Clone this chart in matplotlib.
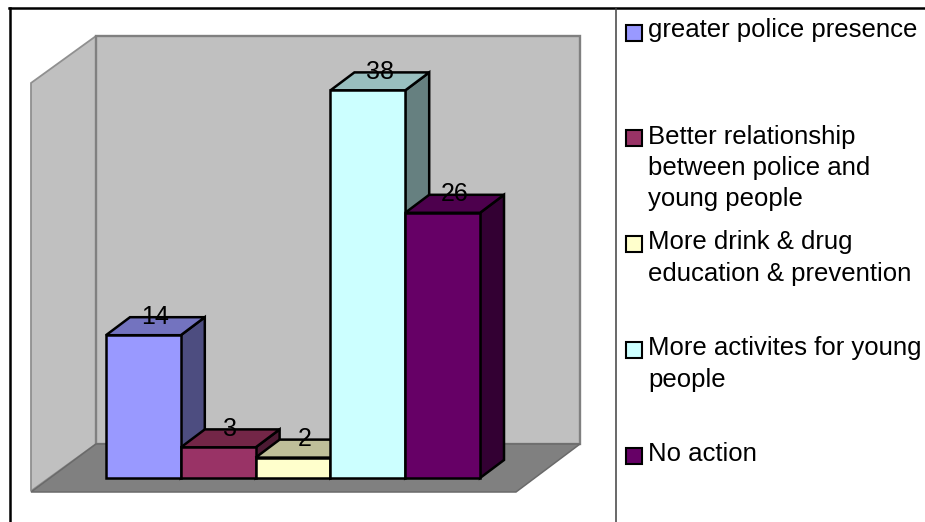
import matplotlib
matplotlib.use("Agg")
import matplotlib.pyplot as plt
from matplotlib.patches import Polygon, Rectangle

plt.rcParams['font.family'] = ['Liberation Sans', 'DejaVu Sans']

labels = ["greater police presence",
          "Better relationship\nbetween police and\nyoung people",
          "More drink & drug\neducation & prevention",
          "More activites for young\npeople",
          "No action"]
values = [14, 3, 2, 38, 26]
front_colors = ['#9999FF', '#993366', '#FFFFCC', '#CCFFFF', '#660066']
top_colors = ['#7373BF', '#732647', '#BFBF99', '#99BFBF', '#4D004D']
side_colors = ['#4D4D80', '#4D1A33', '#808066', '#668080', '#330033']

W, H = 925, 522
BASE = 478          # pixel row of value 0
PX_PER_UNIT = 10.2  # pixel rows per unit of value
DX, DY = 24, 18     # depth of the bars in pixels
BAR_LEFT = 106
BAR_W = 74.8
EDGE = 1.8


def py(row):
    # pixel row -> y data value
    return (BASE - row) / PX_PER_UNIT


fig = plt.figure(figsize=(W / 100, H / 100), dpi=100)
ax = fig.add_axes([0, 0, 1, 1])
ax.set_xlim(0, W)
ax.set_ylim(py(H), py(0))
ax.axis('off')


def poly(pts, fc, ec, lw, z=1):
    ax.add_patch(Polygon([(x, py(r)) for x, r in pts], closed=True, fc=fc, ec=ec,
                         lw=lw, zorder=z, joinstyle='miter'))


# walls and floor
poly([(31, 83), (96, 36), (96, 444), (31, 491)], '#C0C0C0', '#909090', 1.3)
poly([(96, 36), (580, 36), (580, 444), (96, 444)], '#C0C0C0', '#808080', 1.7)
poly([(31, 492), (96, 444), (580, 444), (516, 492)], '#808080', '#6A6A6A', 1.1)

# bars, left to right so each one covers the side of the one before
dy_val = DY / PX_PER_UNIT
for i, v in enumerate(values):
    x0 = BAR_LEFT + i * BAR_W
    x1 = x0 + BAR_W
    z = 2 + i
    ax.add_patch(Polygon([(x1, 0), (x1 + DX, dy_val), (x1 + DX, v + dy_val), (x1, v)],
                         fc=side_colors[i], ec='black', lw=EDGE, zorder=z))
    ax.add_patch(Polygon([(x0, v), (x0 + DX, v + dy_val), (x1 + DX, v + dy_val), (x1, v)],
                         fc=top_colors[i], ec='black', lw=EDGE, zorder=z))
    ax.bar(x0, v, width=BAR_W, align='edge', color=front_colors[i], edgecolor='black',
           linewidth=EDGE, zorder=z)

for i, v in enumerate(values):
    x0 = BAR_LEFT + i * BAR_W
    ax.text(x0 + BAR_W / 2 + 12, v + dy_val + 0.05, str(v), ha='center', va='center',
            fontsize=18, color='black', zorder=20)

# chart frame
ax.plot([9.5, 9.5], [py(8), py(522)], color='black', lw=1.8, zorder=30)
ax.plot([9, 925], [py(8), py(8)], color='black', lw=1.8, zorder=30)
ax.plot([615.5, 615.5], [py(8), py(522)], color='#404040', lw=1.1, zorder=30)

# legend
key_rows = [33, 137.5, 243.5, 350, 456]
text_rows = [30, 168, 258, 364, 454]
for lab, col, kr, tr in zip(labels, front_colors, key_rows, text_rows):
    ax.add_patch(Rectangle((625.5, py(kr + 8)), 16.5, 16 / PX_PER_UNIT, fc=col, ec='black',
                           lw=1.5, zorder=10))
    ax.text(648, py(tr), lab, ha='left', va='center', fontsize=18.5, color='black',
            linespacing=1.38, zorder=10)

fig.savefig('out.png', dpi=100)
